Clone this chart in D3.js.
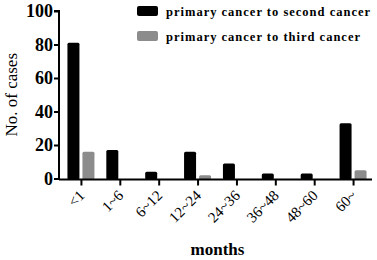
<!DOCTYPE html>
<html>
<head>
<meta charset="utf-8">
<script src="https://cdn.jsdelivr.net/npm/d3@7"></script>
<style>
  body { margin: 0; background: #fff; }
  text { font-family: "Liberation Serif", "Times New Roman", serif; }
</style>
</head>
<body>
<script>
const width = 377,
  height = 260;

const categories = ['<1', '1~6', '6~12', '12~24', '24~36', '36~48', '48~60', '60~'];
const seriesNames = ['primary cancer to second cancer', 'primary cancer to third cancer'];
const second = [81, 17, 4, 16, 9, 3, 3, 33];
const third = [16, 0, 0, 2, 0, 0, 0, 5];
const yTicks = [0, 20, 40, 60, 80, 100];
const colors = ['#000000', '#8c8c8c'];

const data = categories.map((c, i) => ({ cat: c, values: [second[i], third[i]] }));

const x0 = 59, x1 = 372, yBase = 178.5, yTop = 10;

const x = d3.scaleBand()
  .domain(categories)
  .range([62, 373])
  .padding(0);

const xs = d3.scaleBand()
  .domain([0, 1])
  .range([-14, 13])
  .paddingInner(0.2);

const y = d3.scaleLinear()
  .domain([0, 100])
  .range([yBase, yTop + 1]);

const svg = d3.select('body').append('svg')
  .attr('width', width)
  .attr('height', height);

// bars
const groups = svg.append('g')
  .selectAll('g')
  .data(data)
  .enter().append('g')
  .attr('transform', d => `translate(${x(d.cat) + x.bandwidth() / 2},0)`);

groups.selectAll('rect')
  .data(d => d.values.map((v, k) => ({ k, v })).filter(e => e.v > 0))
  .enter().append('rect')
  .attr('x', e => xs(e.k))
  .attr('width', xs.bandwidth())
  .attr('y', e => y(e.v))
  .attr('height', e => yBase - y(e.v) + 1)
  .attr('rx', 1.5)
  .attr('fill', e => colors[e.k]);

// y axis
const yAxis = svg.append('g')
  .attr('transform', `translate(${x0},0)`)
  .call(d3.axisLeft(y).tickValues(yTicks).tickSize(5).tickPadding(1));
yAxis.select('.domain').attr('stroke-width', 2).attr('d', `M0,${yBase + 1}V${y(100)}H-5`);
yAxis.selectAll('.tick line').attr('stroke-width', 2);
yAxis.selectAll('.tick text')
  .attr('font-size', 18)
  .attr('font-weight', 'bold')
  .attr('fill', '#000')
  .style('font-family', '"Liberation Serif", serif');

// x axis
const xAxis = svg.append('g')
  .attr('transform', `translate(0,${yBase + 1})`)
  .call(d3.axisBottom(x).tickSize(6).tickSizeOuter(0));
xAxis.select('.domain').attr('stroke-width', 2).attr('d', `M${x0},0H${x1}`);
xAxis.selectAll('.tick line').attr('stroke-width', 2);
xAxis.selectAll('.tick text')
  .attr('font-size', 15)
  .attr('fill', '#000')
  .attr('text-anchor', 'end')
  .attr('dy', 0)
  .attr('transform', 'translate(4,17) rotate(-45)')
  .attr('y', 0)
  .style('font-family', '"Liberation Serif", serif');

// axis titles
svg.append('text')
  .attr('transform', `translate(17,${(y(0) + y(100)) / 2}) rotate(-90)`)
  .attr('text-anchor', 'middle')
  .attr('font-size', 17)
  .attr('fill', '#000')
  .text('No. of cases');

svg.append('text')
  .attr('x', (x0 + x1) / 2 + 2)
  .attr('y', 255)
  .attr('text-anchor', 'middle')
  .attr('font-size', 17)
  .attr('font-weight', 'bold')
  .attr('fill', '#000')
  .text('months');

// legend
const legend = svg.append('g')
  .attr('transform', 'translate(137,6)')
  .selectAll('g')
  .data(seriesNames)
  .enter().append('g')
  .attr('transform', (d, i) => `translate(0,${i * 25})`);

legend.append('rect')
  .attr('width', 21)
  .attr('height', 10)
  .attr('rx', 2)
  .attr('fill', (d, i) => colors[i]);

legend.append('text')
  .attr('x', 29)
  .attr('y', 10)
  .attr('font-size', 12.5)
  .attr('font-weight', 'bold')
  .attr('letter-spacing', 1)
  .attr('fill', '#000')
  .text(d => d);
</script>
</body>
</html>
